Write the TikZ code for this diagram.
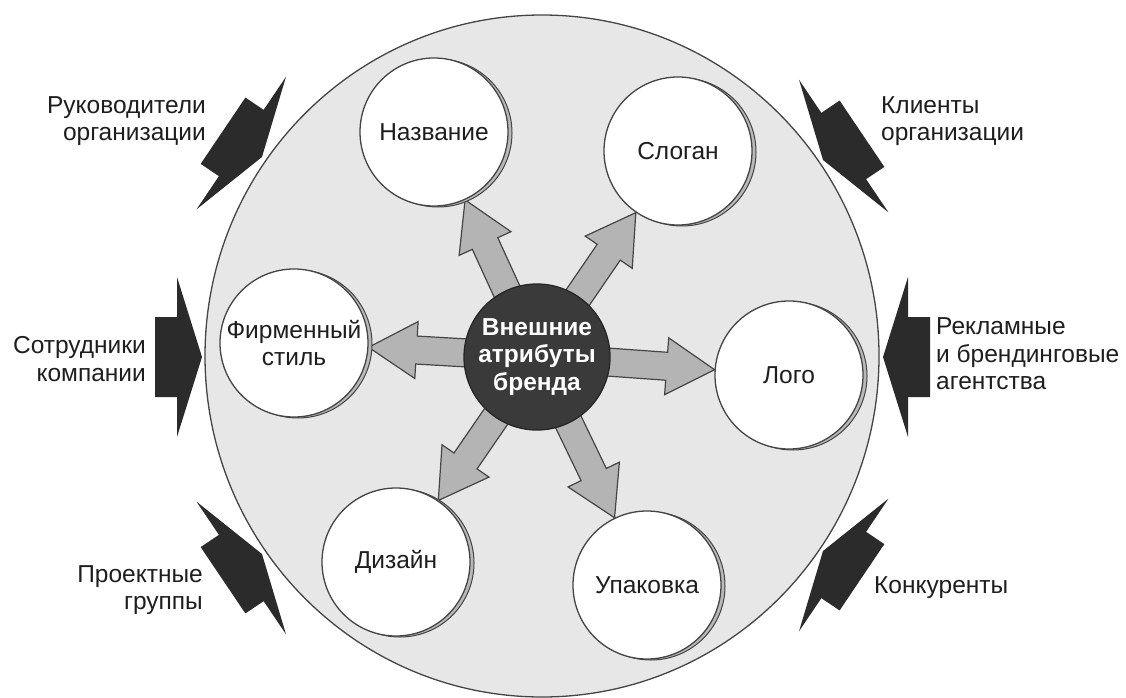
\documentclass[tikz,border=0pt]{standalone}
\usepackage{fontspec}
\setmainfont{Liberation Sans}
\usetikzlibrary{shadows,shapes.geometric}
\pgfdeclarelayer{bg}
\pgfdeclarelayer{mid}
\pgfsetlayers{bg,mid,main}

\definecolor{bigfill}{HTML}{E7E7E7}
\definecolor{edge}{HTML}{454545}
\definecolor{arrfill}{HTML}{B4B4B4}
\definecolor{corefill}{HTML}{3A3A3A}
\definecolor{boltfill}{HTML}{2B2B2B}
\definecolor{txt}{HTML}{1E1E1E}

\newcommand\lblfont{\fontsize{24.5}{27.5}\selectfont}
\newcommand\corefont{\fontsize{24.5}{27.5}\selectfont}

\tikzset{
  attr/.style={circle, draw=edge, line width=1.3pt, fill=white, minimum size=148pt,
    inner sep=0pt, align=center, font=\lblfont, text=txt,
    drop shadow={shadow xshift=4pt, shadow yshift=-1pt, fill=gray!55, draw=edge, line width=1pt, opacity=1}},
  core/.style={circle, draw=black!85, line width=1.3pt, fill=corefill, minimum size=146pt,
    inner sep=0pt, align=center, font=\bfseries\corefont, text=white},
  lab/.style={inner sep=0pt, font=\lblfont, text=txt},
  grayarr/.style={draw=edge, line width=1.2pt, fill=arrfill, line join=miter},
  bolt/.pic={\fill[boltfill] (0,0) -- (-25,80) -- (-25,40) -- (-47,40) -- (-47,-40) -- (-25,-40) -- (-25,-80) -- cycle;}
}

\newcommand\grayarrow[2]{%
  \pgfpointdiff{\pgfpointanchor{#1}{center}}{\pgfpointanchor{#2}{center}}%
  \pgfgetlastxy{\gax}{\gay}%
  \pgfmathsetmacro\gaang{atan2(\gay,\gax)}%
  \pgfmathsetmacro\galen{veclen(\gax,\gay)}%
  \begin{scope}[shift={(#1.center)}, rotate=\gaang, x=1pt, y=1pt]
    \draw[grayarr] (0,-14) -- (\galen-48,-14) -- (\galen-48,-28.5) -- (\galen,0)
      -- (\galen-48,28.5) -- (\galen-48,14) -- (0,14) -- cycle;
  \end{scope}}

\begin{document}
\begin{tikzpicture}[x=1pt,y=-1pt]
\useasboundingbox (0,0) rectangle (1126,698);

% big circle
\begin{pgfonlayer}{bg}
\node[ellipse, draw=edge, line width=1.3pt, fill=bigfill, minimum width=674pt, minimum height=682pt, inner sep=0pt] (big) at (542,356) {};
\end{pgfonlayer}

% attribute circles
\node[attr] (nazv) at (434,132) {Название};
\node[attr] (slog) at (678,151) {Слоган};
\node[attr] (firm) at (294,343) {Фирменный\\стиль};
\node[attr] (logo) at (789,375) {Лого};
\node[attr] (diz)  at (396,562) {Дизайн};
\node[attr] (upak) at (647,585) {Упаковка};

% central circle
\node[core] (core) at (537,357) {Внешние\\атрибуты\\бренда};

% gray arrows
\begin{pgfonlayer}{mid}
\foreach \t in {nazv,slog,firm,logo,diz,upak} {
  \path (core.center) -- (\t) coordinate[pos=1] (tip-\t);
  \grayarrow{core}{tip-\t}
}
\end{pgfonlayer}

% external influence bolts
\coordinate (b1) at (262,157);
\coordinate (b2) at (823,160);
\coordinate (b3) at (202,357);
\coordinate (b4) at (883,357);
\coordinate (b5) at (262,554);
\coordinate (b6) at (823,551);
\pic[rotate=-34] at (b1) {bolt};
\pic[rotate=214] at (b2) {bolt};
\pic[rotate=0]   at (b3) {bolt};
\pic[rotate=180] at (b4) {bolt};
\pic[rotate=34]  at (b5) {bolt};
\pic[rotate=146] at (b6) {bolt};

% labels
\node[lab, anchor=east, align=right] (l1) at (206,121) {Руководители\\организации};
\node[lab, anchor=west, align=left]  (l2) at (881,121) {Клиенты\\организации};
\node[lab, anchor=east, align=right] (l3) at (146,359) {Сотрудники\\компании};
\node[lab, anchor=west, align=left]  (l4) at (936,354) {Рекламные\\и брендинговые\\агентства};
\node[lab, anchor=east, align=right] (l5) at (203,590) {Проектные\\группы};
\node[lab, anchor=west, align=left]  (l6) at (874,588) {Конкуренты};
\end{tikzpicture}
\end{document}
